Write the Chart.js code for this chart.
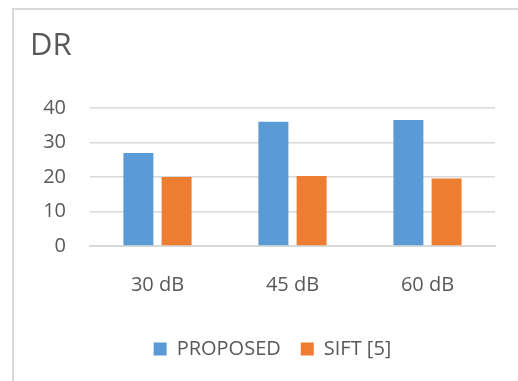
<!DOCTYPE html>
<html>
<head>
<meta charset="utf-8">
<script src="https://cdn.jsdelivr.net/npm/chart.js@4/dist/chart.umd.min.js"></script>
<style>
  html, body { margin: 0; padding: 0; background: #fff; overflow: hidden; }
  #wrap { position: relative; width: 518px; height: 381px; }
  #frame { position: absolute; left: 12px; top: 8px; width: 600px; height: 500px;
           border: 2px solid #d9d9d9; box-sizing: border-box; }
  #c { position: absolute; left: 0; top: 0; }
</style>
</head>
<body>
<div id="wrap">
  <div id="frame"></div>
  <canvas id="c" width="518" height="381"></canvas>
</div>
<script>
// Detection rate per noise level
const categories = ['30 dB', '45 dB', '60 dB'];
const proposed = [27, 36.1, 36.6];
const sift = [20, 20.3, 19.6];
const seriesNames = ['PROPOSED', 'SIFT [5]'];
const yTicks = [0, 10, 20, 30, 40];

const textColor = '#595959';
const fontFamily = '"Open Sans", "Segoe UI", sans-serif';

// Nudge the legend so it sits centred under the plot rather than the whole canvas
const legendNudge = {
  id: 'legendNudge',
  afterLayout(chart) {
    if (chart.legend) { chart.legend.left += 20; }
  }
};

new Chart(document.getElementById('c'), {
  type: 'bar',
  data: {
    labels: categories,
    datasets: [
      { label: seriesNames[0], data: proposed, backgroundColor: '#5B9BD5',
        categoryPercentage: 0.566, barPercentage: 0.785 },
      { label: seriesNames[1], data: sift, backgroundColor: '#ED7D31',
        categoryPercentage: 0.566, barPercentage: 0.785 }
    ]
  },
  plugins: [legendNudge],
  options: {
    responsive: false,
    animation: false,
    events: [],
    layout: { padding: { left: 30, right: 23, top: 20, bottom: 12 } },
    plugins: {
      title: {
        display: true, text: 'DR', align: 'start', color: textColor,
        font: { family: fontFamily, size: 31, weight: 'normal' },
        padding: { top: 8, bottom: 43 }
      },
      legend: {
        position: 'bottom',
        labels: {
          color: textColor, boxWidth: 13, boxHeight: 13, padding: 20,
          font: { family: fontFamily, size: 20 }
        }
      },
      tooltip: { enabled: false }
    },
    scales: {
      x: {
        afterFit: (s) => { s.height += 3; },
        grid: { display: false },
        border: { display: true, color: '#d9d9d9', width: 2 },
        ticks: { color: textColor, padding: 19, font: { family: fontFamily, size: 20 } }
      },
      y: {
        min: 0, max: 40,
        afterBuildTicks: (s) => { s.ticks = yTicks.map(v => ({ value: v })); },
        afterFit: (s) => { s.width = 60; },
        grid: { color: '#d9d9d9', lineWidth: 1.5, drawTicks: false },
        border: { display: false },
        ticks: { color: textColor, padding: 24, font: { family: fontFamily, size: 20 } }
      }
    }
  }
});
</script>
</body>
</html>
